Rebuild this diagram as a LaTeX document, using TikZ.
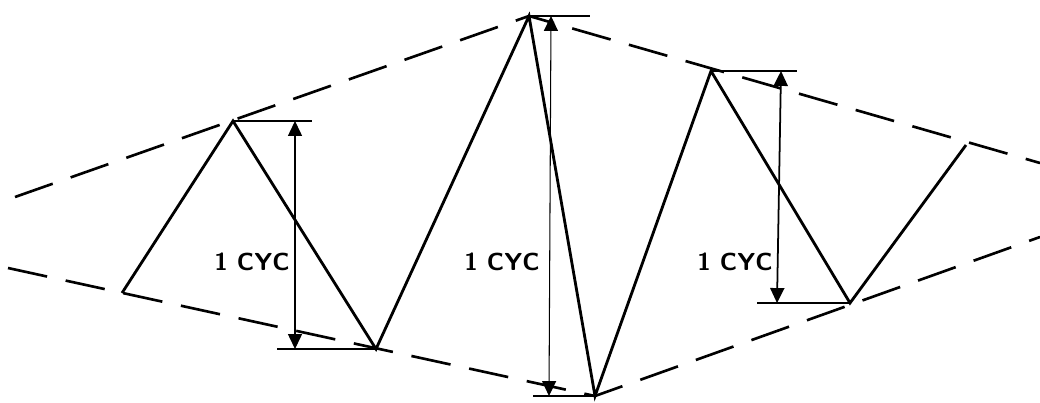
\documentclass[tikz,border=0pt]{standalone}
\usepackage{tikz}
\usetikzlibrary{arrows.meta}

\begin{document}
\begin{tikzpicture}[
  x=0.02cm, y=-0.02cm,
  wave/.style={line width=1.6pt, line join=miter},
  envelope/.style={line width=1.5pt, dash pattern=on 0.8cm off 0.38cm},
  tick/.style={line width=1.1pt},
  dimarrow/.style={{Triangle[length=8.5pt,width=8pt]}-{Triangle[length=8.5pt,width=8pt]}, line width=0.6pt},
  label/.style={font=\fontsize{14}{16}\selectfont\sffamily\bfseries}
]
\useasboundingbox (0,0) rectangle (1040,402);

% zigzag corners
\coordinate (p0) at (122,293);
\coordinate (p1) at (233,121);
\coordinate (p2) at (376,349);
\coordinate (p3) at (529,16);
\coordinate (p4) at (595,396);
\coordinate (p5) at (711,71);
\coordinate (p6) at (850,303);
\coordinate (p7) at (966,145);

% envelope ends
\coordinate (ul) at (15,197);
\coordinate (ur) at (1040,163);
\coordinate (ll) at (8,268);
\coordinate (lr) at (1040,237);

\draw[envelope] (ul) -- (p3) -- (ur);
\draw[envelope] (ll) -- (p4) -- (lr);

\draw[wave] (p0) -- (p1) -- (p2) -- (p3) -- (p4) -- (p5) -- (p6) -- (p7);

% dimension ticks
\coordinate (t1) at (312,121);
\coordinate (b1) at (277,349);
\coordinate (t2) at (590,16);
\coordinate (b2) at (533,396);
\coordinate (t3) at (797,71);
\coordinate (b3) at (757,303);
\draw[tick] (p1) -- (t1);
\draw[tick] (b1) -- (p2);
\draw[tick] (p3) -- (t2);
\draw[tick] (b2) -- (p4);
\draw[tick] (p5) -- (t3);
\draw[tick] (b3) -- (p6);

% dimension arrows
\coordinate (a1t) at (295,121);
\coordinate (a1b) at (295,349);
\coordinate (a2t) at (551,16);
\coordinate (a2b) at (549,396);
\coordinate (a3t) at (781,71);
\coordinate (a3b) at (777,303);
\draw[dimarrow] (a1t) -- (a1b);
\draw[dimarrow] (a2t) -- (a2b);
\draw[dimarrow, line width=1pt] (a3t) -- (a3b);

\node[label] (cyc1) at (252,262) {1 CYC};
\node[label] (cyc2) at (502,262) {1 CYC};
\node[label] (cyc3) at (735,262) {1 CYC};

\end{tikzpicture}
\end{document}
